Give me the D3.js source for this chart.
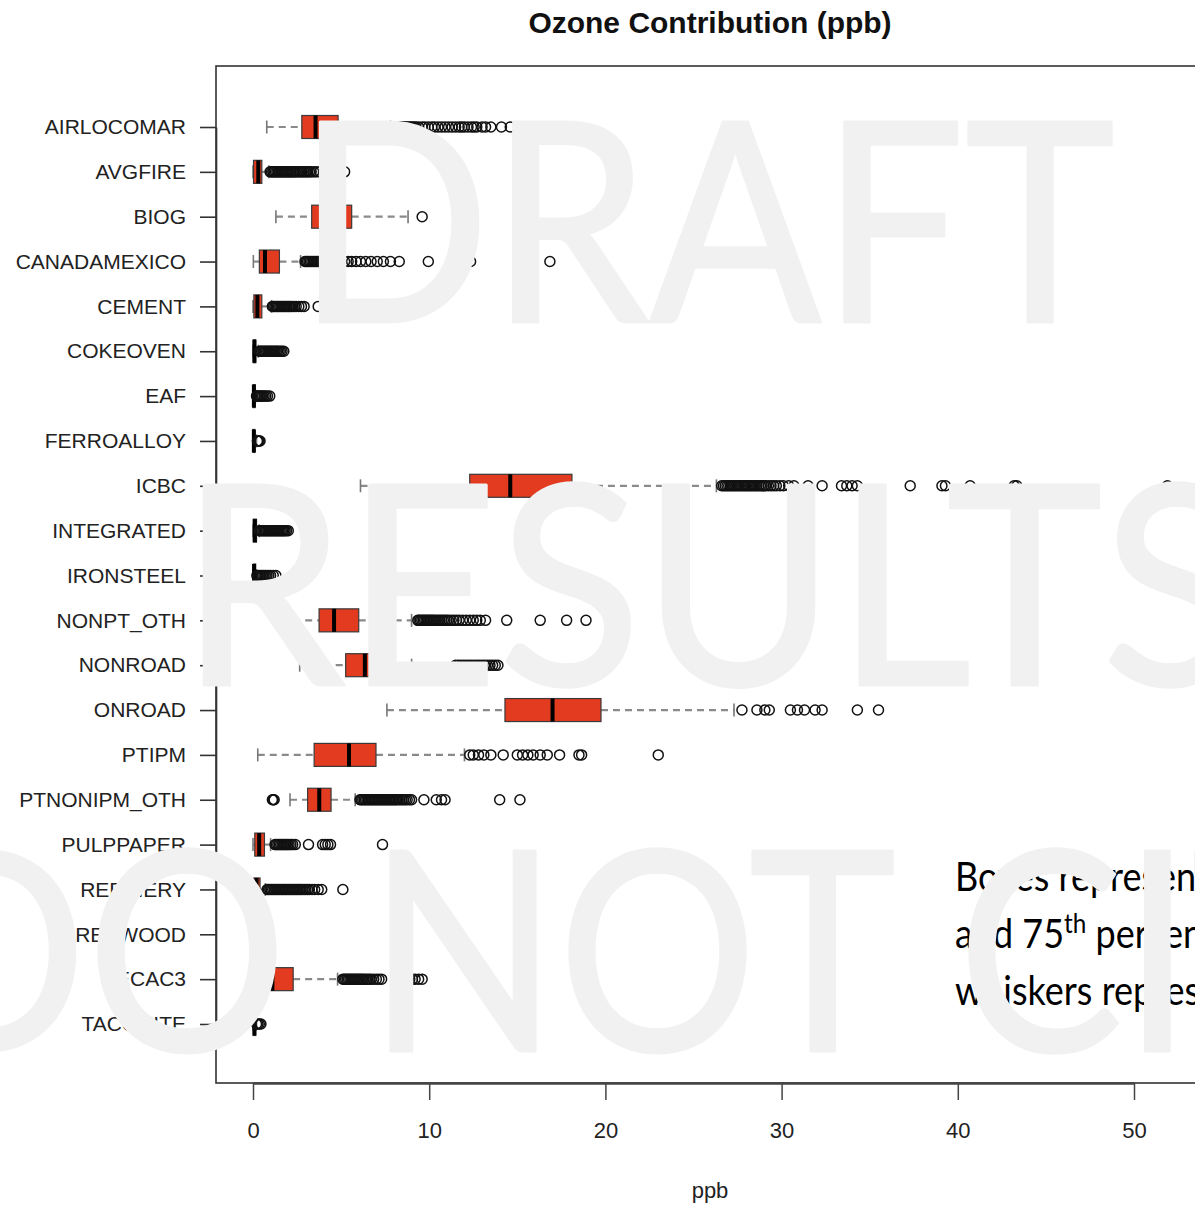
<!DOCTYPE html>
<html>
<head>
<meta charset="utf-8">
<script src="https://cdn.jsdelivr.net/npm/d3@7"></script>
<style>
  body { margin: 0; background: #fff; overflow: hidden; }
  svg { display: block; }
</style>
</head>
<body>
<svg id="chart"></svg>
<script>
// source sectors, top to bottom
const categories = ['AIRLOCOMAR', 'AVGFIRE', 'BIOG', 'CANADAMEXICO', 'CEMENT', 'COKEOVEN', 'EAF',
  'FERROALLOY', 'ICBC', 'INTEGRATED', 'IRONSTEEL', 'NONPT_OTH', 'NONROAD', 'ONROAD', 'PTIPM',
  'PTNONIPM_OTH', 'PULPPAPER', 'REFINERY', 'RESWOOD', 'SECAC3', 'TACONITE'];

// box statistics (ppb)
const whiskerLow  = [0.78, 0, 1.3, 0.02, 0, 0, 0, 0, 6.1, 0, 0, 1.6, 2.65, 7.6, 0.27, 2.1, 0, 0, 0, 0.1, 0];
const q1          = [2.77, 0.03, 3.33, 0.36, 0.05, 0.02, 0.01, 0, 12.3, 0.02, 0.02, 3.75, 5.26, 14.3, 3.47, 3.1, 0.1, 0.05, 0.05, 0.5, 0.02];
const median      = [3.55, 0.3, 4.3, 0.68, 0.25, 0.08, 0.05, 0.05, 14.6, 0.1, 0.06, 4.6, 6.35, 17.0, 5.45, 3.76, 0.35, 0.2, 0.12, 1.1, 0.08];
const q3          = [4.83, 0.5, 5.6, 1.5, 0.5, 0.15, 0.12, 0.1, 18.1, 0.2, 0.15, 6.0, 6.6, 19.75, 6.98, 4.43, 0.65, 0.4, 0.25, 2.28, 0.15];
const whiskerHigh = [7.8, 0.9, 8.8, 2.7, 1.05, 0.3, 0.15, 0.2, 26.3, 0.35, 0.2, 9.0, 9.0, 27.3, 12.0, 5.8, 1.0, 0.7, 0.45, 4.8, 0.2];

// outliers per sector
const outliers = [
  [7.95, 8.02, 8.1, 8.17, 8.25, 8.33, 8.4, 8.48, 8.56, 8.63, 8.71, 8.8, 8.88, 8.97, 9.05, 9.15, 9.25, 9.4, 9.6, 9.75, 9.95, 10.15, 10.3, 10.5, 10.7, 10.9, 11.1, 11.3, 11.5, 11.7, 11.85, 12.0, 12.2, 12.4, 12.55, 12.7, 13.0, 13.2, 13.5, 14.1, 14.6, 15.2, 15.9, 17.3],
  [0.97, 1.05, 1.13, 1.2, 1.28, 1.36, 1.44, 1.52, 1.6, 1.68, 1.76, 1.84, 1.92, 2.0, 2.08, 2.16, 2.24, 2.32, 2.4, 2.5, 2.6, 2.7, 2.8, 2.9, 3.0, 3.1, 3.2, 3.3, 3.45, 3.6, 3.8, 4.0, 4.25, 4.5, 5.2],
  [9.6],
  [2.95, 3.03, 3.1, 3.18, 3.26, 3.34, 3.42, 3.5, 3.58, 3.66, 3.74, 3.82, 3.9, 3.98, 4.06, 4.15, 4.25, 4.35, 4.45, 4.55, 4.7, 4.85, 5.0, 5.2, 5.4, 5.6, 5.85, 6.1, 6.4, 6.7, 7.05, 7.4, 7.8, 8.3, 9.95, 11.9, 12.35, 15.6, 16.85],
  [1.1, 1.17, 1.24, 1.31, 1.38, 1.45, 1.52, 1.59, 1.66, 1.73, 1.8, 1.87, 1.94, 2.01, 2.08, 2.15, 2.25, 2.35, 2.45, 2.6, 2.75, 2.9, 3.7],
  [0.35, 0.42, 0.49, 0.56, 0.63, 0.7, 0.77, 0.84, 0.91, 0.98, 1.05, 1.12, 1.19, 1.26, 1.33, 1.4, 1.48, 1.56, 1.65, 1.75],
  [0.2, 0.27, 0.34, 0.41, 0.48, 0.55, 0.63, 0.72, 0.82, 0.95],
  [0.25, 0.3, 0.35, 0.4],
  [26.6, 26.7, 26.8, 26.9, 27.0, 27.1, 27.2, 27.3, 27.4, 27.5, 27.6, 27.7, 27.8, 27.9, 28.0, 28.1, 28.2, 28.3, 28.4, 28.5, 28.6, 28.7, 28.8, 28.9, 29.0, 29.1, 29.25, 29.4, 29.55, 29.7, 29.9, 30.1, 30.4, 30.7, 31.5, 32.3, 33.4, 33.7, 34.0, 34.3, 37.3, 39.1, 39.3, 40.7, 43.2, 43.35, 51.9],
  [0.35, 0.42, 0.49, 0.56, 0.63, 0.7, 0.77, 0.84, 0.91, 0.98, 1.05, 1.12, 1.19, 1.26, 1.33, 1.4, 1.47, 1.54, 1.61, 1.68, 1.75, 1.82, 1.9, 2.0],
  [0.22, 0.3, 0.38, 0.46, 0.54, 0.62, 0.7, 0.8, 0.9, 1.0, 1.15, 1.3],
  [9.35, 9.42, 9.5, 9.58, 9.66, 9.74, 9.82, 9.9, 9.98, 10.06, 10.14, 10.22, 10.3, 10.4, 10.5, 10.6, 10.7, 10.8, 10.9, 11.0, 11.1, 11.25, 11.4, 11.55, 11.7, 11.9, 12.1, 12.3, 12.5, 12.7, 12.9, 13.2, 14.4, 16.3, 17.8, 18.9, 20.9],
  [11.5, 11.65, 11.8, 11.95, 12.1, 12.25, 12.4, 12.55, 12.7, 12.85, 13.0, 13.15, 13.3, 13.45, 13.6, 13.75, 13.9],
  [27.75, 28.6, 29.05, 29.3, 30.5, 30.9, 31.3, 31.9, 32.3, 34.3, 35.5],
  [12.3, 12.5, 12.8, 13.1, 13.5, 14.2, 15.0, 15.3, 15.6, 15.9, 16.3, 16.7, 17.4, 18.5, 18.65, 23.0],
  [1.1, 1.15, 1.2, 6.07, 6.15, 6.23, 6.31, 6.39, 6.47, 6.55, 6.63, 6.71, 6.79, 6.87, 6.95, 7.03, 7.11, 7.19, 7.27, 7.35, 7.43, 7.51, 7.59, 7.67, 7.75, 7.83, 7.91, 7.99, 8.07, 8.15, 8.25, 8.35, 8.45, 8.55, 8.65, 8.75, 8.88, 9.0, 9.7, 10.4, 10.7, 10.9, 14.0, 15.15],
  [1.25, 1.33, 1.41, 1.49, 1.57, 1.65, 1.73, 1.81, 1.89, 1.97, 2.05, 2.15, 2.25, 2.4, 3.15, 3.95, 4.1, 4.25, 4.4, 7.35],
  [0.8, 0.88, 0.96, 1.04, 1.12, 1.2, 1.28, 1.36, 1.44, 1.52, 1.6, 1.68, 1.76, 1.84, 1.92, 2.0, 2.08, 2.16, 2.24, 2.32, 2.4, 2.48, 2.56, 2.64, 2.72, 2.8, 2.9, 3.0, 3.1, 3.2, 3.35, 3.5, 3.7, 3.9, 5.1],
  [0.6, 0.75],
  [5.1, 5.18, 5.26, 5.34, 5.42, 5.5, 5.58, 5.66, 5.74, 5.82, 5.9, 5.98, 6.06, 6.14, 6.22, 6.3, 6.4, 6.5, 6.6, 6.7, 6.85, 7.0, 7.15, 7.3, 8.9, 9.05, 9.2, 9.4, 9.6],
  [0.2, 0.28, 0.36, 0.45]
];

const xTicks = [0, 10, 20, 30, 40, 50];

const noteLines = [
  ['Boxes represent median, 25', 'th', ''],
  ['and 75', 'th', ' percentiles;'],
  ['whiskers represent 1.5 \u00d7 IQR', '', '']
];
const watermarkWords = ['DRAFT', 'RESULTS', 'DO', 'NOT', 'CITE'];

const width = 1195, height = 1207;
const labelFont = '"Liberation Sans", Arial, Helvetica, sans-serif';

const svg = d3.select('#chart').attr('width', width).attr('height', height);

const x = d3.scaleLinear().domain([0, 50]).range([253, 1134]);
const y = d3.scalePoint().domain(categories).range([127, 1024]);
const boxH = 23;

// Title
svg.append('text')
  .attr('x', 710).attr('y', 33)
  .attr('text-anchor', 'middle')
  .attr('font-family', labelFont).attr('font-weight', 'bold').attr('font-size', 30)
  .attr('fill', '#111')
  .text('Ozone Contribution (ppb)');

// Plot frame
svg.append('rect')
  .attr('x', 216).attr('y', 66)
  .attr('width', 1100).attr('height', 1017)
  .attr('fill', 'none').attr('stroke', '#333').attr('stroke-width', 1.6);

// X axis
const xAxis = svg.append('g')
  .attr('transform', 'translate(0,1083)')
  .call(d3.axisBottom(x).tickValues(xTicks).tickSize(17).tickSizeOuter(0).tickPadding(22));
xAxis.attr('font-family', labelFont).attr('font-size', 22);
xAxis.select('.domain').attr('stroke', '#444').attr('stroke-width', 2.6);
xAxis.selectAll('.tick line').attr('stroke', '#444').attr('stroke-width', 1.5);
xAxis.selectAll('.tick text').attr('fill', '#222');

svg.append('text')
  .attr('x', 710).attr('y', 1198)
  .attr('text-anchor', 'middle')
  .attr('font-family', labelFont).attr('font-size', 22)
  .attr('fill', '#222')
  .text('ppb');

// Y axis
const yAxis = svg.append('g')
  .attr('transform', 'translate(216,0)')
  .call(d3.axisLeft(y).tickSize(16).tickSizeOuter(0).tickPadding(14));
yAxis.attr('font-family', labelFont).attr('font-size', 21);
yAxis.select('.domain').attr('stroke', '#333').attr('stroke-width', 1.6);
yAxis.selectAll('.tick line').attr('stroke', '#333').attr('stroke-width', 1.6);
yAxis.selectAll('.tick text').attr('fill', '#222');

// Boxplots
const stats = categories.map((c, i) => ({
  c, lo: whiskerLow[i], q1: q1[i], med: median[i], q3: q3[i], hi: whiskerHigh[i], out: outliers[i]
}));

const rows = svg.append('g').selectAll('g')
  .data(stats)
  .join('g')
  .attr('transform', d => `translate(0,${y(d.c)})`);

// dashed whiskers
rows.append('line')
  .attr('x1', d => x(d.lo)).attr('x2', d => x(d.q1))
  .attr('stroke', '#8a8a8a').attr('stroke-width', 2.2).attr('stroke-dasharray', '7,5');
rows.append('line')
  .attr('x1', d => x(d.q3)).attr('x2', d => x(d.hi))
  .attr('stroke', '#8a8a8a').attr('stroke-width', 2.2).attr('stroke-dasharray', '7,5');

// staples
rows.selectAll('.staple')
  .data(d => [d.lo, d.hi])
  .join('line')
  .attr('class', 'staple')
  .attr('x1', v => x(v)).attr('x2', v => x(v))
  .attr('y1', -6.5).attr('y2', 6.5)
  .attr('stroke', '#777').attr('stroke-width', 1.6);

// boxes
rows.append('rect')
  .attr('x', d => x(d.q1))
  .attr('y', -boxH / 2)
  .attr('width', d => x(d.q3) - x(d.q1))
  .attr('height', boxH)
  .attr('fill', '#e23b20')
  .attr('stroke', '#3a3a3a').attr('stroke-width', 1.2);

// medians
rows.append('line')
  .attr('x1', d => x(d.med)).attr('x2', d => x(d.med))
  .attr('y1', -boxH / 2).attr('y2', boxH / 2)
  .attr('stroke', '#000').attr('stroke-width', 4);

// outliers
rows.selectAll('circle')
  .data(d => d.out)
  .join('circle')
  .attr('cx', v => x(v))
  .attr('cy', 0)
  .attr('r', 5)
  .attr('fill', 'none')
  .attr('stroke', '#111').attr('stroke-width', 1.5);

// Note text box (cut off at the right edge)
const note = svg.append('g')
  .attr('transform', 'translate(955,0) scale(0.9,1)')
  .attr('font-family', 'Lato, "Open Sans", sans-serif')
  .attr('font-size', 40)
  .attr('fill', '#000');
note.selectAll('text')
  .data(noteLines)
  .join('text')
  .attr('x', 0)
  .attr('y', (d, i) => 891 + i * 57)
  .each(function (d) {
    const t = d3.select(this);
    t.append('tspan').text(d[0]);
    if (d[1]) t.append('tspan').attr('font-size', 27).attr('dy', -15).text(d[1]);
    if (d[2]) t.append('tspan').attr('dy', 15).text(d[2]);
  });

// Watermark on top of everything
const wmX = [297, 180, -103, 368, 958];
const wmY = [322, 685, 1051, 1051, 1051];
const wmLen = [818, 1065, 390, 528, 522];
svg.append('g')
  .attr('font-family', 'Lato, "Open Sans", sans-serif')
  .attr('font-size', 279)
  .attr('fill', '#f1f1f1')
  .attr('stroke', '#f1f1f1')
  .attr('stroke-width', 3)
  .attr('stroke-linejoin', 'round')
  .selectAll('text')
  .data(watermarkWords)
  .join('text')
  .attr('x', (d, i) => wmX[i])
  .attr('y', (d, i) => wmY[i])
  .attr('textLength', (d, i) => wmLen[i])
  .attr('lengthAdjust', 'spacingAndGlyphs')
  .text(d => d);
</script>
</body>
</html>
